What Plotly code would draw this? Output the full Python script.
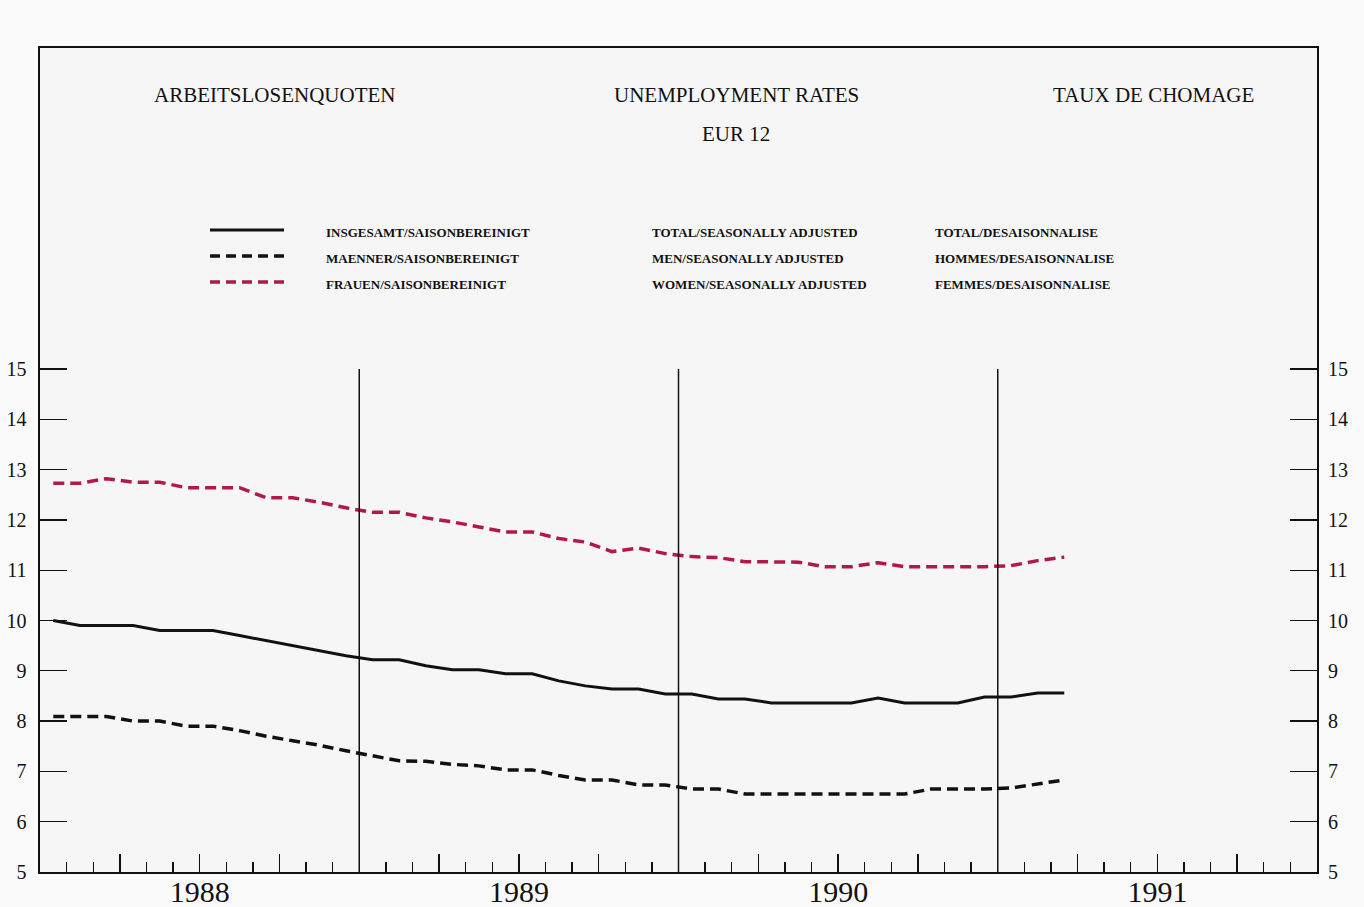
import plotly.graph_objects as go

# ---------------- data ----------------
years = ["1988", "1989", "1990", "1991"]
start_label = "Jan 1988"  # monthly data, Jan 1988 - Mar 1991

total = [10.0, 9.9, 9.9, 9.9, 9.8, 9.8, 9.8, 9.7, 9.6, 9.5, 9.4, 9.3,
         9.22, 9.22, 9.1, 9.02, 9.02, 8.94, 8.94, 8.8, 8.7, 8.64, 8.64, 8.54,
         8.54, 8.44, 8.44, 8.36, 8.36, 8.36, 8.36, 8.46, 8.36, 8.36, 8.36, 8.48,
         8.48, 8.56, 8.56]
men = [8.09, 8.09, 8.09, 8.0, 8.0, 7.9, 7.9, 7.81, 7.7, 7.61, 7.52, 7.41,
       7.31, 7.21, 7.2, 7.14, 7.11, 7.03, 7.03, 6.92, 6.83, 6.83, 6.73, 6.73,
       6.65, 6.65, 6.55, 6.55, 6.55, 6.55, 6.55, 6.55, 6.55, 6.65, 6.65, 6.65,
       6.67, 6.75, 6.83]
women = [12.73, 12.73, 12.82, 12.75, 12.75, 12.64, 12.64, 12.64, 12.44, 12.44, 12.35, 12.24,
         12.15, 12.15, 12.04, 11.96, 11.86, 11.76, 11.76, 11.63, 11.56, 11.37, 11.44, 11.33,
         11.27, 11.25, 11.17, 11.17, 11.16, 11.07, 11.07, 11.15, 11.07, 11.07, 11.07, 11.07,
         11.09, 11.19, 11.26]

y_ticks = [5, 6, 7, 8, 9, 10, 11, 12, 13, 14, 15]

titles_de_en_fr = ["ARBEITSLOSENQUOTEN", "UNEMPLOYMENT RATES", "TAUX DE CHOMAGE"]
subtitle = "EUR 12"
legend_de = ["INSGESAMT/SAISONBEREINIGT", "MAENNER/SAISONBEREINIGT", "FRAUEN/SAISONBEREINIGT"]
legend_en = ["TOTAL/SEASONALLY ADJUSTED", "MEN/SEASONALLY ADJUSTED", "WOMEN/SEASONALLY ADJUSTED"]
legend_fr = ["TOTAL/DESAISONNALISE", "HOMMES/DESAISONNALISE", "FEMMES/DESAISONNALISE"]

# ---------------- derived ----------------
months = [i + 0.5 for i in range(len(total))]       # mid-month positions
n_months = 12 * len(years)
year_bounds = [12 * k for k in range(1, len(years))]
quarter_ticks = [m for m in range(3, n_months, 3) if m % 12 != 0]
quarter_text = [years[m // 12] if m % 12 == 6 else "" for m in quarter_ticks]

RED = "#b3174d"
BLACK = "#111111"
FONT = "Liberation Serif"

W, H = 1364, 907
ML, MR, MT, MB = 40, 47, 48, 35
PW, PH = W - ML - MR, H - MT - MB


def px(xpix):
    return (xpix - ML) / PW


def py(ypix):
    return (H - MB - ypix) / PH


fig = go.Figure()
fig.add_trace(go.Scatter(x=months, y=total, mode="lines",
                         line=dict(color=BLACK, width=3), hoverinfo="skip"))
fig.add_trace(go.Scatter(x=months, y=men, mode="lines",
                         line=dict(color=BLACK, width=3.5, dash="11px,6px"), hoverinfo="skip"))
fig.add_trace(go.Scatter(x=months, y=women, mode="lines",
                         line=dict(color=RED, width=3.5, dash="11px,6px"), hoverinfo="skip"))
# invisible trace to anchor the right-hand label axis
fig.add_trace(go.Scatter(x=months, y=total, yaxis="y2", mode="lines",
                         line=dict(width=0), opacity=0, hoverinfo="skip"))

y_top = 5 + (H - MB - MT) / ((H - MB - 369) / 10)  # axis extends up to the frame top

shapes = []
for b in year_bounds:
    shapes.append(dict(type="line", xref="x", yref="y", x0=b, x1=b,
                       y0=y_ticks[0], y1=y_ticks[-1],
                       line=dict(color=BLACK, width=1.5)))

# legend samples
legend_rows_y = [230, 256, 282]
styles = [dict(color=BLACK, width=3, dash="solid"),
          dict(color=BLACK, width=3.5, dash="10px,6px"),
          dict(color=RED, width=3.5, dash="10px,6px")]
for ry, st in zip(legend_rows_y, styles):
    shapes.append(dict(type="line", xref="paper", yref="paper",
                       x0=px(210), x1=px(284), y0=py(ry), y1=py(ry), line=st))

annotations = []
for text, cx in zip(titles_de_en_fr, [275, 736, 1153]):
    annotations.append(dict(text=text, x=px(cx), y=py(95), xref="paper", yref="paper",
                            xanchor="center", yanchor="middle", showarrow=False,
                            font=dict(family=FONT, size=21, color=BLACK)))
annotations.append(dict(text=subtitle, x=px(736), y=py(134), xref="paper", yref="paper",
                        xanchor="center", yanchor="middle", showarrow=False,
                        font=dict(family=FONT, size=21, color=BLACK)))
for col, lx in zip([legend_de, legend_en, legend_fr], [324, 650, 933]):
    for text, ry in zip(col, [232, 258, 284]):
        annotations.append(dict(text="<b>" + text + "</b>", x=px(lx), y=py(ry),
                                xref="paper", yref="paper", xanchor="left", yanchor="middle",
                                showarrow=False,
                                font=dict(family=FONT, size=13, color=BLACK)))

fig.update_layout(
    width=W, height=H,
    margin=dict(l=ML, r=MR, t=MT, b=MB),
    paper_bgcolor="#fafafa", plot_bgcolor="#f6f6f6",
    showlegend=False,
    shapes=shapes, annotations=annotations,
    xaxis=dict(range=[0, n_months], showgrid=False, zeroline=False,
               showline=True, mirror=True, linecolor=BLACK, linewidth=1.6,
               tickmode="array", tickvals=quarter_ticks, ticktext=quarter_text,
               ticks="inside", ticklen=18, tickwidth=1.4, tickcolor=BLACK,
               minor=dict(tickmode="linear", tick0=0, dtick=1, ticks="inside",
                          ticklen=10, tickwidth=1.4, tickcolor=BLACK),
               tickfont=dict(family=FONT, size=30, color=BLACK),
               ticklabelstandoff=-8, automargin=False, fixedrange=True),
    yaxis=dict(range=[5, y_top], showgrid=False, zeroline=False,
               showline=True, mirror="ticks", linecolor=BLACK, linewidth=1.6,
               tickmode="array", tickvals=y_ticks,
               ticks="inside", ticklen=27, tickwidth=1.4, tickcolor=BLACK,
               tickfont=dict(family=FONT, size=20, color=BLACK),
               ticklabelstandoff=8, automargin=False, fixedrange=True),
    yaxis2=dict(range=[5, y_top], overlaying="y", side="right",
                showgrid=False, zeroline=False, showline=False,
                tickmode="array", tickvals=y_ticks, ticks="",
                tickfont=dict(family=FONT, size=20, color=BLACK),
                ticklabelstandoff=10, automargin=False, fixedrange=True),
)

fig.write_html("out.html",
               config={"displayModeBar": False, "staticPlot": True},
               post_script="document.body.style.margin='0';document.body.style.padding='0';document.body.style.overflow='hidden';")
